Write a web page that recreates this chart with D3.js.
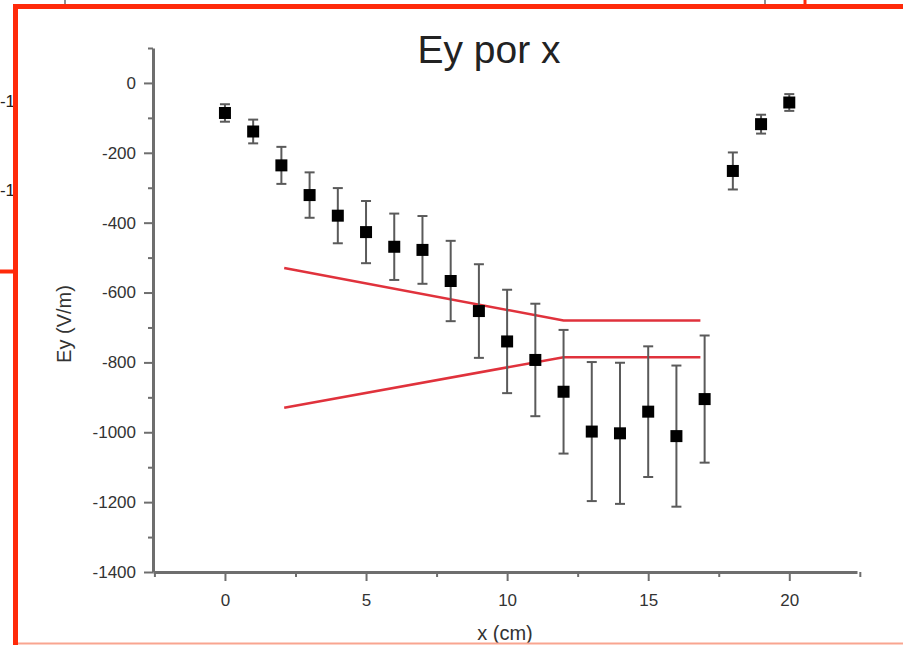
<!DOCTYPE html>
<html>
<head>
<meta charset="utf-8">
<script src="https://cdn.jsdelivr.net/npm/d3@7"></script>
<style>
  body { margin: 0; background: #fff; overflow: hidden; }
  svg { display: block; font-family: "Liberation Sans", Arial, sans-serif; }
</style>
</head>
<body>
<div id="chart"></div>
<script>
// Ey por x - measured field with error bars, plus the two red limit lines

// position along x (cm)
var xPos = [0, 1, 2, 3, 4, 5, 6, 7, 8, 9, 10, 11, 12, 13, 14, 15, 16, 17, 18, 19, 20];
// Ey (V/m)
var eyVals = [-86, -139, -236, -321, -380, -427, -469, -478, -567, -653, -740,
              -793, -884, -998, -1003, -941, -1011, -905, -252, -118, -56];
// error bar half heights
var eyErr = [25, 34, 53, 65, 79, 89, 95, 97, 115, 134, 148,
             161, 177, 199, 202, 187, 202, 182, 53, 27, 24];

// red limit lines
var limX = [2.1, 12, 16.85];
var limUpper = [-530, -680, -680];
var limLower = [-930, -785, -785];

var xTicks = [0, 5, 10, 15, 20];
var xMinor = [-2.5, 2.5, 7.5, 12.5, 17.5, 22.5];
var yTicks = [0, -200, -400, -600, -800, -1000, -1200, -1400];
var yMinor = [100, -100, -300, -500, -700, -900, -1100, -1300];

var svgWidth = 903;
var svgHeight = 645;

var svg = d3.select("#chart")
    .append("svg")
    .attr("width", svgWidth)
    .attr("height", svgHeight);

svg.append("rect")
    .attr("width", svgWidth)
    .attr("height", svgHeight)
    .attr("fill", "#fff");

// scales
var xScale = d3.scaleLinear().domain([-2.55, 22.4]).range([153, 857]);
var yScale = d3.scaleLinear().domain([-1400, 100]).range([572, 48]);

var axisColor = "#6e6e6e";
var labelColor = "#333";
var plainNum = d => String(d);

// minor ticks first (no labels)
svg.append("g")
    .attr("transform", "translate(153,0)")
    .call(d3.axisLeft(yScale).tickValues(yMinor).tickSize(5).tickSizeOuter(0).tickFormat(""))
    .call(g => g.select(".domain").remove())
    .call(g => g.selectAll("line").attr("stroke", axisColor).attr("stroke-width", 2));

svg.append("g")
    .attr("transform", "translate(0,572)")
    .call(d3.axisBottom(xScale).tickValues(xMinor).tickSize(5).tickSizeOuter(0).tickFormat(""))
    .call(g => g.select(".domain").remove())
    .call(g => g.selectAll("line").attr("stroke", axisColor).attr("stroke-width", 2));

// y axis
var yAxis = svg.append("g")
    .attr("transform", "translate(153,0)")
    .call(d3.axisLeft(yScale).tickValues(yTicks).tickSize(9).tickPadding(8)
        .tickSizeOuter(0).tickFormat(plainNum));
yAxis.select(".domain").attr("stroke", axisColor).attr("stroke-width", 3);
yAxis.selectAll("line").attr("stroke", axisColor).attr("stroke-width", 2);
yAxis.selectAll("text")
    .attr("fill", labelColor)
    .style("font-size", "17px")
    .style("font-family", "'Liberation Sans', Arial, sans-serif");

// x axis
var xAxis = svg.append("g")
    .attr("transform", "translate(0,572)")
    .call(d3.axisBottom(xScale).tickValues(xTicks).tickSize(9).tickPadding(13)
        .tickSizeOuter(0).tickFormat(plainNum));
xAxis.select(".domain").attr("stroke", axisColor).attr("stroke-width", 3);
xAxis.selectAll("line").attr("stroke", axisColor).attr("stroke-width", 2);
xAxis.selectAll("text")
    .attr("fill", labelColor)
    .style("font-size", "17px")
    .style("font-family", "'Liberation Sans', Arial, sans-serif");

// title and axis labels
svg.append("text")
    .attr("x", 489)
    .attr("y", 63)
    .attr("text-anchor", "middle")
    .attr("fill", "#222")
    .style("font-size", "39px")
    .text("Ey por x");

svg.append("text")
    .attr("transform", "translate(71,324) rotate(-90)")
    .attr("text-anchor", "middle")
    .attr("fill", labelColor)
    .style("font-size", "20px")
    .text("Ey (V/m)");

svg.append("text")
    .attr("x", 505)
    .attr("y", 640)
    .attr("text-anchor", "middle")
    .attr("fill", labelColor)
    .style("font-size", "20px")
    .text("x (cm)");

// red limit lines
var limLine = d3.line()
    .x(d => xScale(d[0]))
    .y(d => yScale(d[1]));

[limUpper, limLower].forEach(vals => {
    svg.append("path")
        .datum(limX.map((x, i) => [x, vals[i]]))
        .attr("d", limLine)
        .attr("fill", "none")
        .attr("stroke", "#e0323c")
        .attr("stroke-width", 2.5);
});

// error bars
var points = xPos.map((x, i) => ({ x: x, y: eyVals[i], e: eyErr[i] }));
var errGroup = svg.append("g")
    .attr("stroke", "#5a5a5a")
    .attr("stroke-width", 2);

errGroup.selectAll(".ebar")
    .data(points)
    .join("line")
    .attr("x1", d => xScale(d.x))
    .attr("x2", d => xScale(d.x))
    .attr("y1", d => yScale(d.y + d.e))
    .attr("y2", d => yScale(d.y - d.e));

errGroup.selectAll(".capTop")
    .data(points)
    .join("line")
    .attr("x1", d => xScale(d.x) - 5)
    .attr("x2", d => xScale(d.x) + 5)
    .attr("y1", d => yScale(d.y + d.e))
    .attr("y2", d => yScale(d.y + d.e));

errGroup.selectAll(".capBottom")
    .data(points)
    .join("line")
    .attr("x1", d => xScale(d.x) - 5)
    .attr("x2", d => xScale(d.x) + 5)
    .attr("y1", d => yScale(d.y - d.e))
    .attr("y2", d => yScale(d.y - d.e));

// square markers
svg.append("g")
    .selectAll("rect")
    .data(points)
    .join("rect")
    .attr("x", d => xScale(d.x) - 6)
    .attr("y", d => yScale(d.y) - 6)
    .attr("width", 12)
    .attr("height", 12)
    .attr("fill", "#000");

// bits of the screenshot around the chart
svg.append("text")
    .attr("x", 15).attr("y", 107)
    .attr("text-anchor", "end")
    .attr("fill", "#222")
    .style("font-size", "17px")
    .text("-1");
svg.append("text")
    .attr("x", 15).attr("y", 196)
    .attr("text-anchor", "end")
    .attr("fill", "#222")
    .style("font-size", "17px")
    .text("-1");

svg.append("line").attr("x1", 65).attr("x2", 65).attr("y1", 0).attr("y2", 6)
    .attr("stroke", "#222").attr("stroke-width", 1);
svg.append("line").attr("x1", 765).attr("x2", 765).attr("y1", 0).attr("y2", 8)
    .attr("stroke", "#222").attr("stroke-width", 1);

var frameRed = "#ff2a0a";
svg.append("line").attr("x1", 13).attr("x2", 903).attr("y1", 6.5).attr("y2", 6.5)
    .attr("stroke", frameRed).attr("stroke-width", 5);
svg.append("line").attr("x1", 15.5).attr("x2", 15.5).attr("y1", 4).attr("y2", 645)
    .attr("stroke", frameRed).attr("stroke-width", 5);
svg.append("line").attr("x1", 0).attr("x2", 15).attr("y1", 271.5).attr("y2", 271.5)
    .attr("stroke", frameRed).attr("stroke-width", 4);
svg.append("line").attr("x1", 805).attr("x2", 805).attr("y1", 0).attr("y2", 8)
    .attr("stroke", frameRed).attr("stroke-width", 3);
svg.append("line").attr("x1", 18).attr("x2", 903).attr("y1", 643.5).attr("y2", 643.5)
    .attr("stroke", "#f9a590").attr("stroke-width", 2);
</script>
</body>
</html>
